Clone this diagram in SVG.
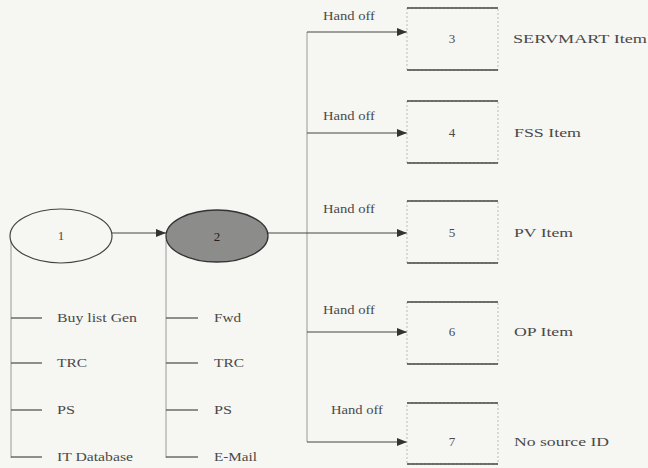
<svg xmlns="http://www.w3.org/2000/svg" width="648" height="468" viewBox="0 0 648 468" font-family="'Liberation Serif', 'DejaVu Serif', serif">
<defs>
<marker id="ah" viewBox="0 0 10 8" refX="10" refY="4" markerWidth="10" markerHeight="8" markerUnits="userSpaceOnUse" orient="auto">
<path d="M0,0 L10,4 L0,8 Z" fill="#333"/>
</marker>
</defs>
<style>
text{font-family:'Liberation Serif','DejaVu Serif',serif;fill:#4a4a4a;}
.lbl{font-size:13.5px;}
.ho{font-size:11.5px;}
.num{font-size:13px;text-anchor:middle;}
.ln{stroke:#444;stroke-width:1.2;fill:none;}
.tk{stroke:#555;stroke-width:1.3;fill:none;}
.vl{stroke:#999;stroke-width:1;fill:none;}
.bh{stroke:#444;stroke-width:1.5;}
.bv{stroke:#bbb;stroke-width:1;stroke-dasharray:2 2;}
</style>
<rect width="648" height="468" fill="#f6f6f2"/>
<g id="connectors">
<line class="ln" x1="112" y1="233" x2="166" y2="233" marker-end="url(#ah)"/>
<line class="vl" x1="11" y1="240" x2="11" y2="458"/>
<line class="vl" x1="166" y1="240" x2="166" y2="458"/>
<line class="tk" x1="11" y1="318" x2="42" y2="318"/>
<line class="tk" x1="11" y1="363" x2="42" y2="363"/>
<line class="tk" x1="11" y1="410" x2="42" y2="410"/>
<line class="tk" x1="11" y1="457" x2="42" y2="457"/>
<line class="tk" x1="166" y1="318" x2="198" y2="318"/>
<line class="tk" x1="166" y1="363" x2="198" y2="363"/>
<line class="tk" x1="166" y1="410" x2="198" y2="410"/>
<line class="tk" x1="166" y1="457" x2="198" y2="457"/>
<line class="vl" x1="307" y1="32" x2="307" y2="442"/>
<line class="ln" x1="268" y1="233" x2="407" y2="233" marker-end="url(#ah)"/>
<line class="ln" x1="307" y1="32" x2="407" y2="32" marker-end="url(#ah)"/>
<line class="ln" x1="307" y1="133" x2="407" y2="133" marker-end="url(#ah)"/>
<line class="ln" x1="307" y1="332" x2="407" y2="332" marker-end="url(#ah)"/>
<line class="ln" x1="307" y1="442" x2="407" y2="442" marker-end="url(#ah)"/>
<text class="ho" x="323" y="20" textLength="52" lengthAdjust="spacingAndGlyphs">Hand off</text>
<text class="ho" x="323" y="120" textLength="52" lengthAdjust="spacingAndGlyphs">Hand off</text>
<text class="ho" x="323" y="213" textLength="52" lengthAdjust="spacingAndGlyphs">Hand off</text>
<text class="ho" x="323" y="314" textLength="52" lengthAdjust="spacingAndGlyphs">Hand off</text>
<text class="ho" x="331" y="414" textLength="52" lengthAdjust="spacingAndGlyphs">Hand off</text>
<text class="lbl" x="57" y="322" textLength="80" lengthAdjust="spacingAndGlyphs">Buy list Gen</text>
<text class="lbl" x="57" y="367" textLength="30" lengthAdjust="spacingAndGlyphs">TRC</text>
<text class="lbl" x="57" y="414" textLength="18" lengthAdjust="spacingAndGlyphs">PS</text>
<text class="lbl" x="57" y="461" textLength="76" lengthAdjust="spacingAndGlyphs">IT Database</text>
<text class="lbl" x="214" y="322" textLength="27" lengthAdjust="spacingAndGlyphs">Fwd</text>
<text class="lbl" x="214" y="367" textLength="30" lengthAdjust="spacingAndGlyphs">TRC</text>
<text class="lbl" x="214" y="414" textLength="18" lengthAdjust="spacingAndGlyphs">PS</text>
<text class="lbl" x="214" y="461" textLength="43" lengthAdjust="spacingAndGlyphs">E-Mail</text>
</g>
<g id="node1">
<ellipse cx="61" cy="236" rx="51" ry="27" fill="#f6f6f2" stroke="#444" stroke-width="1.2"/>
<text class="num" x="61" y="240">1</text>
</g>
<g id="node2">
<ellipse cx="217" cy="236" rx="51" ry="26" fill="#8c8c8a" stroke="#333" stroke-width="1.3"/>
<text class="num" x="217" y="241" style="fill:#222">2</text>
</g>
<g id="node3">
<rect x="407" y="8" width="91" height="62" fill="none" class="bv"/>
<line class="bh" x1="407" y1="8" x2="498" y2="8"/><line class="bh" x1="407" y1="70" x2="498" y2="70"/>
<text class="num" x="452" y="43">3</text>
<text class="lbl" x="513" y="43" textLength="134" lengthAdjust="spacingAndGlyphs">SERVMART Item</text>
</g>
<g id="node4">
<rect x="407" y="101" width="91" height="62" fill="none" class="bv"/>
<line class="bh" x1="407" y1="101" x2="498" y2="101"/><line class="bh" x1="407" y1="163" x2="498" y2="163"/>
<text class="num" x="452" y="137">4</text>
<text class="lbl" x="514" y="137" textLength="67" lengthAdjust="spacingAndGlyphs">FSS Item</text>
</g>
<g id="node5">
<rect x="407" y="201" width="91" height="62" fill="none" class="bv"/>
<line class="bh" x1="407" y1="201" x2="498" y2="201"/><line class="bh" x1="407" y1="263" x2="498" y2="263"/>
<text class="num" x="452" y="237">5</text>
<text class="lbl" x="514" y="237" textLength="59" lengthAdjust="spacingAndGlyphs">PV Item</text>
</g>
<g id="node6">
<rect x="407" y="302" width="91" height="62" fill="none" class="bv"/>
<line class="bh" x1="407" y1="302" x2="498" y2="302"/><line class="bh" x1="407" y1="364" x2="498" y2="364"/>
<text class="num" x="452" y="336">6</text>
<text class="lbl" x="514" y="336" textLength="59" lengthAdjust="spacingAndGlyphs">OP Item</text>
</g>
<g id="node7">
<rect x="407" y="403" width="91" height="61" fill="none" class="bv"/>
<line class="bh" x1="407" y1="403" x2="498" y2="403"/><line class="bh" x1="407" y1="464" x2="498" y2="464"/>
<text class="num" x="452" y="446">7</text>
<text class="lbl" x="514" y="446" textLength="95" lengthAdjust="spacingAndGlyphs">No source ID</text>
</g>
</svg>
